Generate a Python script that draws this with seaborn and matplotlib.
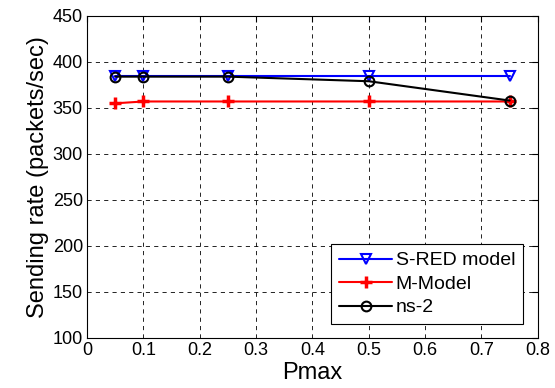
import pandas as pd
import matplotlib
matplotlib.use('Agg')
import matplotlib.pyplot as plt
import seaborn as sns

# Sending rate vs Pmax
pmax = [0.05, 0.1, 0.25, 0.5, 0.75]
sred_model = [385, 385, 385, 385, 385]
m_model = [355, 357, 357, 357, 357]
ns2 = [384, 384, 384, 379, 358]

sns.set_style('white')
plt.rcParams['font.family'] = ['Liberation Sans', 'DejaVu Sans']
plt.rcParams['font.size'] = 11
plt.rcParams['text.color'] = 'black'
plt.rcParams['axes.labelcolor'] = 'black'

fig = plt.figure(figsize=(5.55, 3.88), dpi=100)
ax = fig.add_axes([0.157, 0.129, 0.812, 0.830])

sns.lineplot(x=pmax, y=sred_model, ax=ax, color='blue', marker='v', markersize=7,
             markerfacecolor='none', markeredgecolor='blue', markeredgewidth=1.5,
             linewidth=1.5, label='S-RED model')
sns.lineplot(x=pmax, y=m_model, ax=ax, color='red', marker='+', markersize=8,
             markeredgecolor='red', markeredgewidth=2.5, linewidth=1.5, label='M-Model')
sns.lineplot(x=pmax, y=ns2, ax=ax, color='black', marker='o', markersize=7,
             markerfacecolor='none', markeredgecolor='black', markeredgewidth=1.5,
             linewidth=1.5, label='ns-2')

ax.set_xlim(0, 0.8)
ax.set_ylim(100, 450)
ax.set_xticks([0, 0.1, 0.2, 0.3, 0.4, 0.5, 0.6, 0.7, 0.8])
ax.set_xticklabels(['0', '0.1', '0.2', '0.3', '0.4', '0.5', '0.6', '0.7', '0.8'])
ax.set_yticks(range(100, 451, 50))
ax.set_xlabel('Pmax', fontsize=17, labelpad=2)
ax.set_ylabel('Sending rate (packets/sec)', fontsize=17, labelpad=3)

ax.grid(True, color='black', linestyle=(0, (5, 5)), linewidth=0.6)
ax.tick_params(direction='in', top=True, right=True, length=4, width=0.8,
               labelsize=13, colors='black', pad=3)
for s in ax.spines.values():
    s.set_color('black')
    s.set_linewidth(0.8)
    s.set_visible(True)

leg = ax.legend(loc='lower right', bbox_to_anchor=(0.967, 0.043), fontsize=14,
                frameon=True, fancybox=False, edgecolor='black', framealpha=1,
                handlelength=2.7, handletextpad=0.2, borderaxespad=0,
                labelspacing=0.3, borderpad=0.4)
leg.get_frame().set_linewidth(0.8)

fig.savefig('out.png', dpi=100)
